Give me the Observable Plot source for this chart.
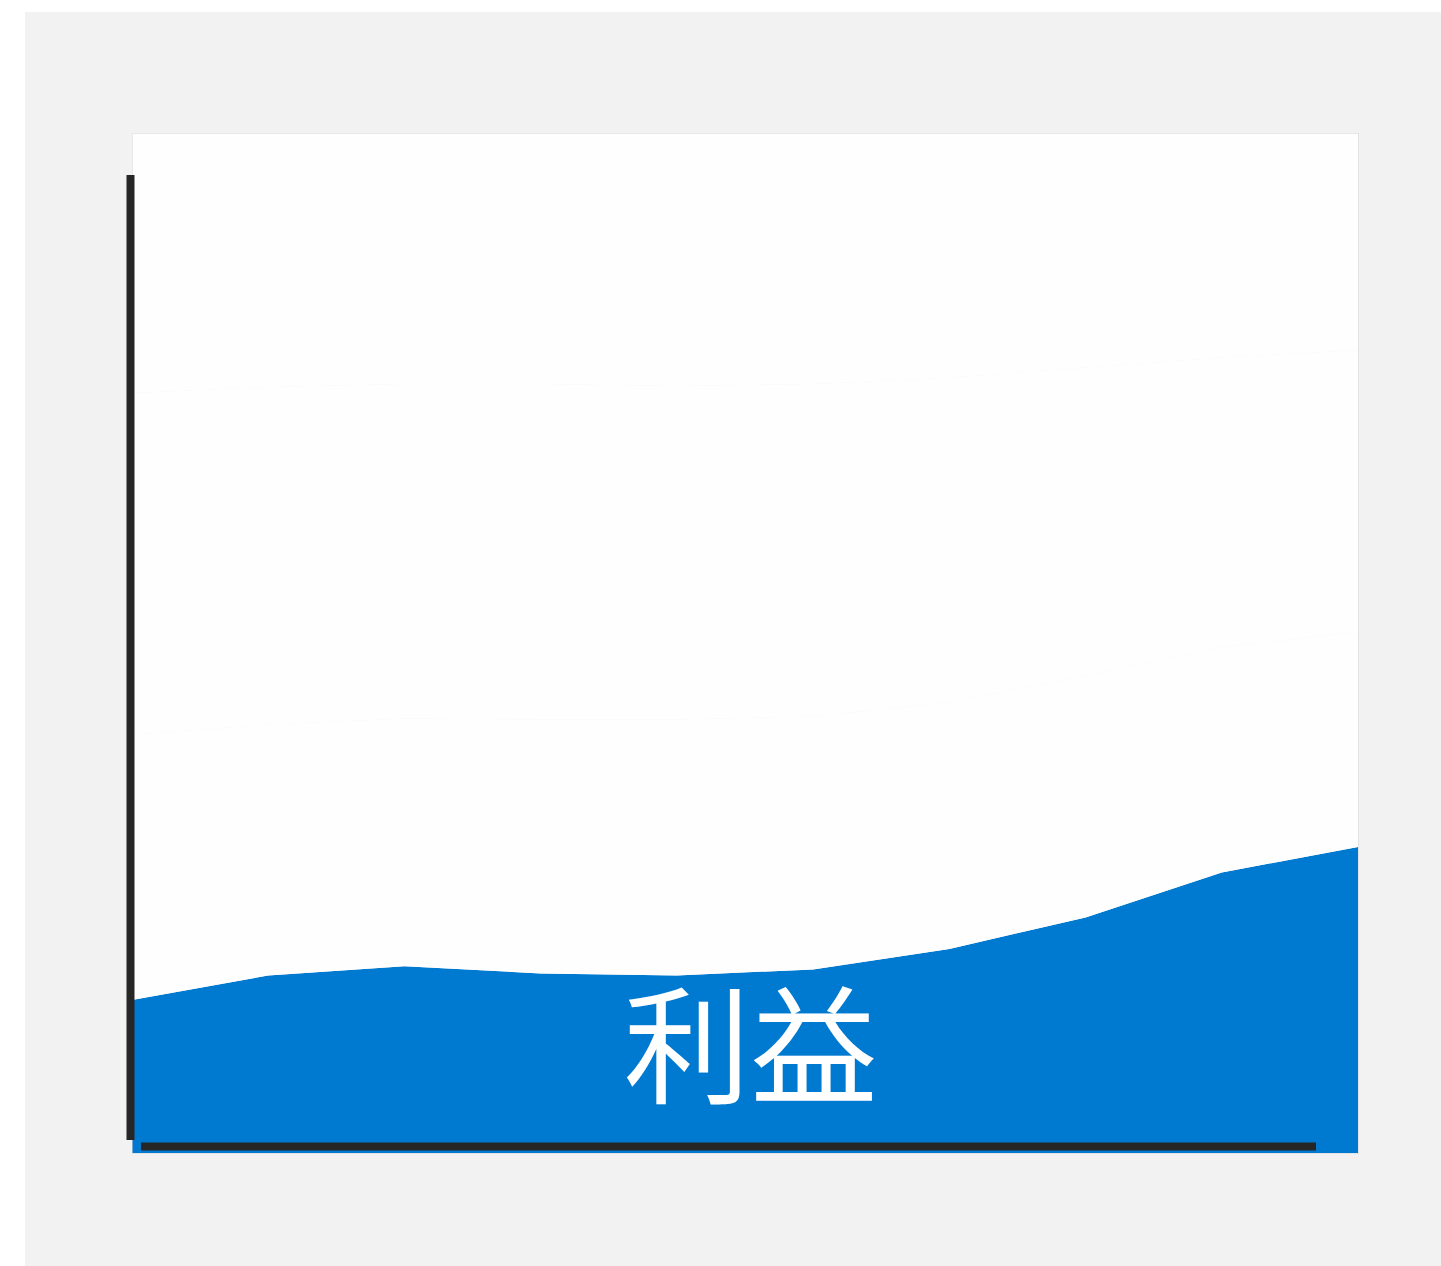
<!DOCTYPE html>
<html lang="ja">
<head>
<meta charset="utf-8">
<script src="https://cdn.jsdelivr.net/npm/d3@7"></script>
<script src="https://cdn.jsdelivr.net/npm/@observablehq/plot@0.6"></script>
<style>
  html, body { margin: 0; padding: 0; background: #ffffff; }
  #panel { position: absolute; left: 25px; top: 12px; width: 1416px; height: 1254px; background: #f2f2f2; }
  #panel svg { display: block; }
</style>
</head>
<body>
<div id="panel"></div>
<script>
// Data (shares of total, %)
const periods = [1, 2, 3, 4, 5, 6, 7, 8, 9, 10];
const seriesNames = ["利益", "系列2", "系列3", "系列4"];
const profit  = [15.0, 17.4, 18.3, 17.6, 17.4, 18.0, 20.0, 23.1, 27.5, 30.0];
const series2 = [26.0, 24.6, 24.3, 24.9, 25.1, 24.8, 24.2, 23.7, 22.1, 21.1];
const series3 = [33.5, 33.1, 32.8, 32.9, 32.7, 32.6, 31.8, 30.2, 28.4, 27.6];
const series4 = [25.5, 24.9, 24.6, 24.6, 24.8, 24.6, 24.0, 23.0, 22.0, 21.3];
const labelText = "利益";

const allSeries = [profit, series2, series3, series4];
const rows = [];
seriesNames.forEach((name, i) => {
  periods.forEach((p, j) => rows.push({ period: p, series: name, value: allSeries[i][j] }));
});

const fills = ["#0079d0", "#fefefe", "#fefefe", "#fefefe"];

const chart = Plot.plot({
  width: 1416,
  height: 1254,
  marginLeft: 107,
  marginRight: 83,
  marginTop: 121,
  marginBottom: 113,
  style: { background: "transparent", fontFamily: "'Noto Sans CJK JP', 'Noto Sans', sans-serif" },
  x: { axis: null, domain: [periods[0], periods[periods.length - 1]] },
  y: { axis: null, domain: [0, 100] },
  color: { domain: seriesNames, range: fills },
  marks: [
    Plot.areaY(rows, Plot.stackY({ x: "period", y: "value", z: "series", fill: "series" })),
    Plot.frame({ stroke: "#d6d6d6", strokeOpacity: 0.55 }),
    Plot.ruleX([periods[0]], { stroke: "#262626", strokeWidth: 8, dx: -2, insetTop: 42, insetBottom: 13 }),
    Plot.ruleY([0], { stroke: "#262626", strokeWidth: 8, dy: -7, insetLeft: 9, insetRight: 42 }),
    Plot.text([labelText], { frameAnchor: "bottom", lineAnchor: "middle", dx: 5, dy: -100, fill: "white", fontSize: 127 })
  ]
});
document.getElementById("panel").appendChild(chart);
</script>
</body>
</html>
